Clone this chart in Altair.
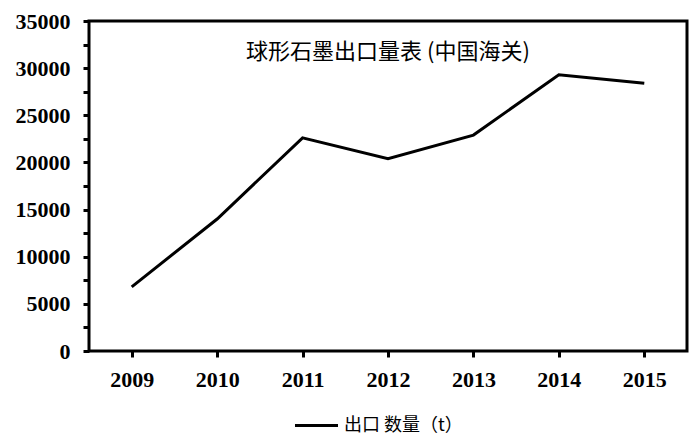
import altair as alt
import pandas as pd

years = ["2009", "2010", "2011", "2012", "2013", "2014", "2015"]
export_t = [6800, 14000, 22600, 20400, 22900, 29300, 28400]
series_name = "出口 数量（t）"
chart_title = "球形石墨出口量表 (中国海关)"
y_ticks = list(range(0, 35001, 2500))

df = pd.DataFrame({"year": years, "value": export_t, "series": [series_name] * len(years)})

line = alt.Chart(df).mark_line(strokeWidth=3).encode(
    x=alt.X("year:O", scale=alt.Scale(padding=0.5),
            axis=alt.Axis(title=None, labelAngle=0, domain=False, tickColor="black",
                          tickWidth=3, tickSize=6, labelPadding=12, bandPosition=0.5,
                          labelFont="Liberation Serif", labelFontWeight="bold",
                          labelFontSize=22, labelColor="black")),
    y=alt.Y("value:Q", scale=alt.Scale(domain=[0, 35000], nice=False),
            axis=alt.Axis(title=None, values=y_ticks, grid=False, domain=False,
                          tickColor="black", tickWidth=3, tickSize=6, labelPadding=13,
                          labelExpr="datum.value % 5000 == 0 ? datum.value : ''",
                          labelFont="Liberation Serif", labelFontWeight="bold",
                          labelFontSize=22, labelColor="black")),
    color=alt.Color("series:N", scale=alt.Scale(range=["black"]),
                    legend=alt.Legend(title=None, orient="none", legendX=204, legendY=381,
                                      symbolType="stroke", symbolSize=1850,
                                      symbolStrokeWidth=3, symbolStrokeColor="black",
                                      labelFont="Noto Sans CJK SC",
                                      labelFontSize=18, labelColor="black", labelOffset=4)),
)

chart = line.properties(
    width=598, height=330,
    title=alt.Title(chart_title, font="Noto Sans CJK SC", fontSize=22, fontWeight="normal",
                    color="black", anchor="middle", offset=0, dy=54),
    autosize=alt.AutoSizeParams(type="none"),
    padding={"left": 81, "top": 13, "right": 4, "bottom": 90},
).configure_view(stroke="black", strokeWidth=3)

chart.save("out.html", embed_options={"renderer": "svg", "actions": False})
